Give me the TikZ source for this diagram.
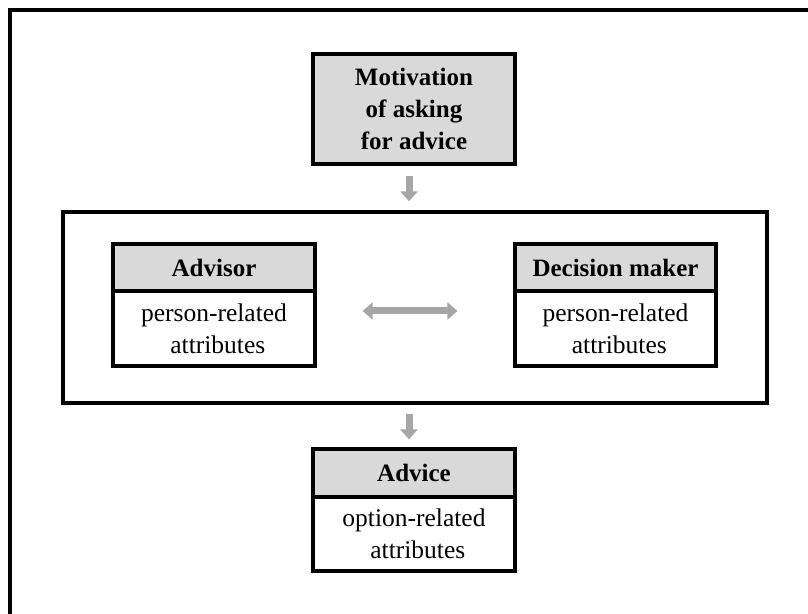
\documentclass[tikz,border=0pt]{standalone}
\usepackage{fontspec}
\setmainfont{Liberation Serif}
\usetikzlibrary{arrows.meta}
\definecolor{hdr}{HTML}{D9D9D9}
\definecolor{arr}{HTML}{A6A6A6}
\tikzset{
  box/.style={draw=black, line width=3.2pt, minimum width=202pt, inner sep=0pt, align=center, font=\fontsize{25.5}{32}\selectfont},
  hdrbox/.style={box, fill=hdr, font=\fontsize{25}{32}\selectfont\bfseries},
  bodybox/.style={box, fill=white},
  framebox/.style={draw=black, line width=3.4pt},
  bigarrow/.style={draw=arr, line width=7pt, -{Triangle[width=17pt,length=10pt]}},
  dblarrow/.style={draw=arr, line width=7pt, {Triangle[width=17pt,length=10pt]}-{Triangle[width=17pt,length=10pt]}},
}
\begin{document}
\begin{tikzpicture}[x=1pt,y=1pt]
\useasboundingbox (0,0) rectangle (808,613);
% outer frame (extends past the page on the right and bottom)
\coordinate (oTL) at (10,603);
\coordinate (oTR) at (830,603);
\coordinate (oBL) at (10,-20);
\draw[framebox] (oTR) -- (oTL) -- (oBL);
% middle frame
\node[framebox, minimum width=704pt, minimum height=191pt, inner sep=0pt] (frame) at (415,305.5) {};
% motivation
\node[hdrbox, minimum height=110pt] (mot) at (414,504) {Motivation\\of asking\\for advice};
% advisor
\node[hdrbox, minimum height=47pt] (advh) at (214,345.5) {Advisor};
\node[bodybox, minimum height=75pt] (advb) at (214,284.5) {person-related\\\hspace*{0.3em}attributes};
% decision maker
\node[hdrbox, minimum width=201pt, minimum height=47pt] (dmh) at (615.5,345.5) {Decision maker};
\node[bodybox, minimum width=201pt, minimum height=75pt] (dmb) at (615.5,284.5) {person-related\\\hspace*{0.3em}attributes};
% advice
\node[hdrbox, minimum height=48pt] (ach) at (414,140) {Advice};
\node[bodybox, minimum height=74pt] (acb) at (414,79) {option-related\\\hspace*{0.3em}attributes};
% arrows
\draw[bigarrow] ([xshift=-5pt,yshift=-10pt]mot.south) -- ([xshift=-6pt,yshift=9pt]frame.north);
\draw[bigarrow] ([xshift=-6pt,yshift=-9pt]frame.south) -- ([xshift=-5pt,yshift=8pt]ach.north);
\draw[dblarrow] ([xshift=46pt,yshift=17.5pt]advb.east) -- ([xshift=-56pt,yshift=17.5pt]dmb.west);
\end{tikzpicture}
\end{document}
